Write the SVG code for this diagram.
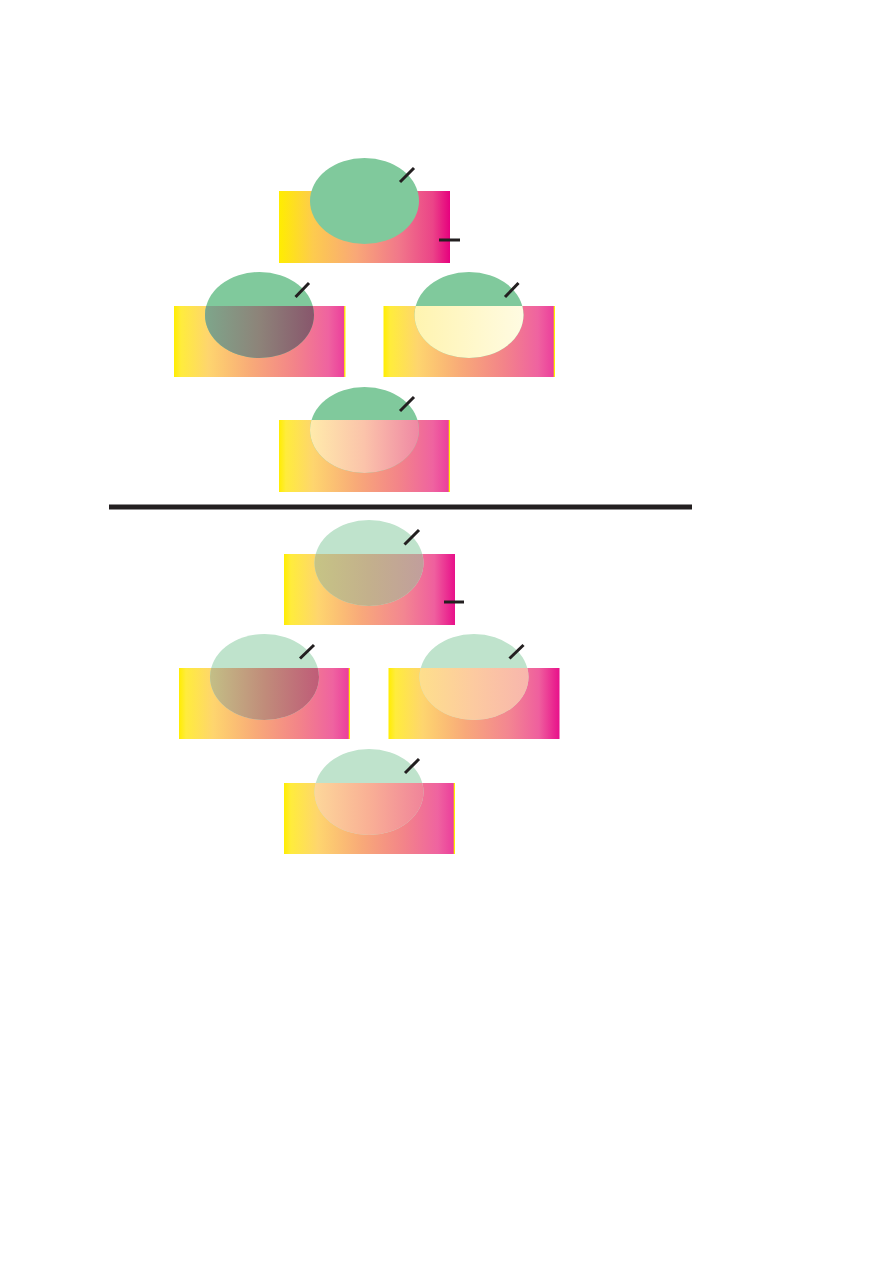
<svg xmlns="http://www.w3.org/2000/svg" width="893" height="1263" viewBox="0 0 893 1263">
<style>
.tick{stroke:#231f20;stroke-width:3;fill:none}
.g1{fill:#80c99c}
.g2{fill:#bfe3cc}
</style>
<defs>
<linearGradient id="bgA" x1="0" y1="0" x2="1" y2="0">
<stop offset="0" stop-color="#ffed00"/>
<stop offset="0.2" stop-color="#fdcb4e"/>
<stop offset="0.45" stop-color="#f9a877"/>
<stop offset="0.7" stop-color="#f1788a"/>
<stop offset="0.9" stop-color="#eb4488"/>
<stop offset="1" stop-color="#e6007e"/>
</linearGradient>
<linearGradient id="bgB" x1="0" y1="0" x2="1" y2="0">
<stop offset="0" stop-color="#ffed00"/>
<stop offset="0.04" stop-color="#ffec3c"/>
<stop offset="0.2" stop-color="#fed56e"/>
<stop offset="0.45" stop-color="#f8aa78"/>
<stop offset="0.7" stop-color="#f38489"/>
<stop offset="0.9" stop-color="#ef63a0"/>
<stop offset="0.99" stop-color="#ec3f9c"/>
<stop offset="0.995" stop-color="#fff200"/>
<stop offset="1" stop-color="#fff200"/>
</linearGradient>
<linearGradient id="bgC" x1="0" y1="0" x2="1" y2="0">
<stop offset="0" stop-color="#ffed00"/>
<stop offset="0.04" stop-color="#ffec3c"/>
<stop offset="0.2" stop-color="#fed56e"/>
<stop offset="0.45" stop-color="#f8a97a"/>
<stop offset="0.7" stop-color="#f38691"/>
<stop offset="0.88" stop-color="#ef5f9e"/>
<stop offset="1" stop-color="#e8108a"/>
</linearGradient>
<linearGradient id="ovMul" x1="0" y1="0" x2="1" y2="0">
<stop offset="0" stop-color="#7ea68b"/>
<stop offset="0.5" stop-color="#8d8379"/>
<stop offset="1" stop-color="#88566c"/>
</linearGradient>
<linearGradient id="ovScr" x1="0" y1="0" x2="1" y2="0">
<stop offset="0" stop-color="#fff4b0"/>
<stop offset="1" stop-color="#fffbe2"/>
</linearGradient>
<linearGradient id="ovSoft" x1="0" y1="0" x2="1" y2="0">
<stop offset="0" stop-color="#ffebab"/>
<stop offset="0.5" stop-color="#fbc3aa"/>
<stop offset="1" stop-color="#ef88a4"/>
</linearGradient>
<linearGradient id="ov2Top" x1="0" y1="0" x2="1" y2="0">
<stop offset="0" stop-color="#c6c485"/>
<stop offset="0.5" stop-color="#c3b08c"/>
<stop offset="1" stop-color="#c19e9c"/>
</linearGradient>
<linearGradient id="ov2Mul" x1="0" y1="0" x2="1" y2="0">
<stop offset="0" stop-color="#c3bf86"/>
<stop offset="0.5" stop-color="#c08c7a"/>
<stop offset="1" stop-color="#bf5c78"/>
</linearGradient>
<linearGradient id="ov2Scr" x1="0" y1="0" x2="1" y2="0">
<stop offset="0" stop-color="#fedf8c"/>
<stop offset="0.5" stop-color="#fccaa0"/>
<stop offset="1" stop-color="#f8b6ad"/>
</linearGradient>
<linearGradient id="ov2Soft" x1="0" y1="0" x2="1" y2="0">
<stop offset="0" stop-color="#fdd79a"/>
<stop offset="0.5" stop-color="#f9b095"/>
<stop offset="1" stop-color="#f0849a"/>
</linearGradient>
<clipPath id="clipR" clipPathUnits="userSpaceOnUse"><rect x="0" y="0" width="172" height="72"/></clipPath>
</defs>
<rect width="893" height="1263" fill="#ffffff"/>

<g id="node-top-1" transform="translate(279,191)">
<rect x="0" y="0" width="171" height="72" fill="url(#bgA)"/>
<ellipse class="g1" cx="85.5" cy="10" rx="54.5" ry="43"/>
<line class="tick" x1="121" y1="-9" x2="135" y2="-23"/>
<line class="tick" x1="160" y1="49" x2="181" y2="49"/>
</g>
<g id="node-mult-1" transform="translate(174,306)">
<rect x="0" y="0" width="171.5" height="71" fill="url(#bgB)"/>
<ellipse class="g1" cx="85.5" cy="9" rx="54.5" ry="43"/>
<ellipse cx="85.5" cy="9" rx="54.5" ry="43" fill="url(#ovMul)" clip-path="url(#clipR)"/>
<line class="tick" x1="121.5" y1="-9" x2="135" y2="-23"/>
</g>
<g id="node-screen-1" transform="translate(383.5,306)">
<rect x="0" y="0" width="171.5" height="71" fill="url(#bgB)"/>
<ellipse class="g1" cx="85.5" cy="9" rx="54.5" ry="43"/>
<ellipse cx="85.5" cy="9" rx="54.5" ry="43" fill="url(#ovScr)" clip-path="url(#clipR)"/>
<line class="tick" x1="121.5" y1="-9" x2="135" y2="-23"/>
</g>
<g id="node-soft-1" transform="translate(279,420)">
<rect x="0" y="0" width="171" height="72" fill="url(#bgB)"/>
<ellipse class="g1" cx="85.5" cy="10" rx="54.5" ry="43"/>
<ellipse cx="85.5" cy="10" rx="54.5" ry="43" fill="url(#ovSoft)" clip-path="url(#clipR)"/>
<line class="tick" x1="121" y1="-9" x2="135" y2="-23"/>
</g>

<g id="divider">
<rect x="109" y="504.5" width="583" height="5" fill="#231f20"/>
</g>

<g id="node-top-2" transform="translate(284,554)">
<rect x="0" y="0" width="171" height="71" fill="url(#bgC)"/>
<ellipse class="g2" cx="85" cy="9" rx="54.5" ry="43"/>
<ellipse cx="85" cy="9" rx="54.5" ry="43" fill="url(#ov2Top)" clip-path="url(#clipR)"/>
<line class="tick" x1="120.5" y1="-9.5" x2="135" y2="-24"/>
<line class="tick" x1="160" y1="48" x2="180" y2="48"/>
</g>
<g id="node-mult-2" transform="translate(179,668)">
<rect x="0" y="0" width="171" height="71" fill="url(#bgB)"/>
<ellipse class="g2" cx="85.5" cy="9" rx="54.5" ry="43"/>
<ellipse cx="85.5" cy="9" rx="54.5" ry="43" fill="url(#ov2Mul)" clip-path="url(#clipR)"/>
<line class="tick" x1="121" y1="-9.5" x2="135" y2="-23"/>
</g>
<g id="node-screen-2" transform="translate(388.5,668)">
<rect x="0" y="0" width="171" height="71" fill="url(#bgC)"/>
<ellipse class="g2" cx="85.5" cy="9" rx="54.5" ry="43"/>
<ellipse cx="85.5" cy="9" rx="54.5" ry="43" fill="url(#ov2Scr)" clip-path="url(#clipR)"/>
<line class="tick" x1="121" y1="-9.5" x2="135" y2="-23"/>
</g>
<g id="node-soft-2" transform="translate(284,783)">
<rect x="0" y="0" width="171" height="71" fill="url(#bgB)"/>
<ellipse class="g2" cx="85" cy="9" rx="54.5" ry="43"/>
<ellipse cx="85" cy="9" rx="54.5" ry="43" fill="url(#ov2Soft)" clip-path="url(#clipR)"/>
<line class="tick" x1="121" y1="-10" x2="135" y2="-24"/>
</g>
<g id="connectors"></g>
</svg>
